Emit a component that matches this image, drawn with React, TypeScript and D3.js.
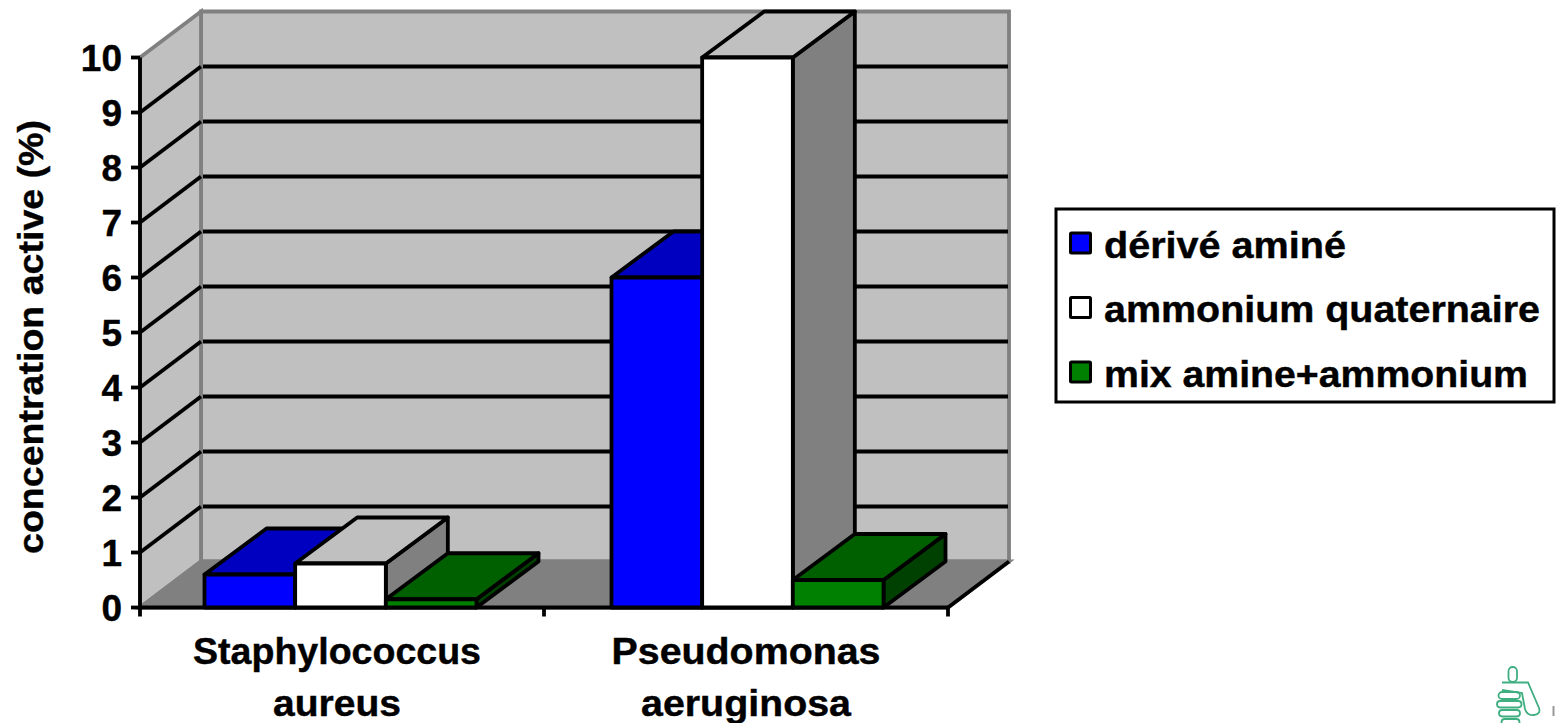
import React from "react";
import * as d3 from "d3";

const categories = [["Staphylococcus", "aureus"], ["Pseudomonas", "aeruginosa"]];
const seriesNames = ["dérivé aminé", "ammonium quaternaire", "mix amine+ammonium"];
const derive = [0.6, 6];
const ammonium = [0.8, 10];
const mix = [0.15, 0.5];
const seriesValues = [derive, ammonium, mix];
const frontColors = ["#0000ff", "#ffffff", "#008000"];
const topColors = ["#0000c0", "#c0c0c0", "#006000"];
const sideColors = ["#000080", "#808080", "#004000"];
const yTicks = d3.range(0, 11);

const DX = 61;
const DY = -46;
const BAR_DX = 62;
const SW = 3.8;
const FONT = "'Liberation Sans', Arial, sans-serif";

const y = d3.scaleLinear().domain([0, 10]).range([607.5, 57.5]);
const xCat = d3.scaleBand<number>().domain([0, 1]).range([140, 954]);
const xSer = d3.scaleBand<number>().domain([0, 1, 2]).range([64.5, 336.5]);
const xAxisTicks = [140, 544, 948];
const poly = (pts: number[][]) => "M" + pts.map((p) => p.join(",")).join("L") + "Z";

const catLabelLengths = [[288, 128], [269, 210]];
const catCenters = [337, 746];
const legendLengths = [242, 436, 424];
const textStroke = { stroke: "#000", strokeWidth: 0.4 };

export default function App() {
  const x0 = 140, x1 = 948, y0 = y(0), yT = y(10);
  return (
    <svg width={1556} height={723} style={{ position: "absolute", left: 0, top: 0, display: "block", background: "#fff" }} fontFamily={FONT} fontWeight="bold">
      {/* walls */}
      <path d={poly([[x0 + DX, yT + DY], [x1 + DX, yT + DY], [x1 + DX, y0 + DY], [x0 + DX, y0 + DY]])} fill="#c0c0c0" stroke="#808080" strokeWidth={SW} />
      <path d={poly([[x0, yT], [x0 + DX, yT + DY], [x0 + DX, y0 + DY], [x0, y0]])} fill="#c0c0c0" stroke="#808080" strokeWidth={SW} />
      {/* gridlines */}
      {yTicks.filter((t) => t > 0 && t < 10).map((t) => (
        <path key={t} d={`M${x0},${y(t)}L${x0 + DX},${y(t) + DY}`} fill="none" stroke="#000" strokeWidth={SW} />
      ))}
      {yTicks.filter((t) => t > 0 && t < 10).map((t) => (
        <path key={t} d={`M${x0 + DX + 2},${y(t) + DY}L${x1 + DX - 1},${y(t) + DY}`} fill="none" stroke="#000" strokeWidth={SW} />
      ))}
      {/* floor */}
      <path d={poly([[x0, y0], [x0 + DX, y0 + DY], [x1 + DX, y0 + DY], [x1, y0]])} fill="#808080" stroke="#808080" strokeWidth={SW} />
      <line x1={x1} y1={y0} x2={x1 + DX} y2={y0 + DY} stroke="#000" strokeWidth={SW} />
      {/* axes */}
      <line x1={x0} y1={yT} x2={x0} y2={y0} stroke="#000" strokeWidth={SW} />
      <line x1={x0} y1={y0} x2={x1} y2={y0} stroke="#000" strokeWidth={SW} />
      {yTicks.map((t) => (
        <g key={t}>
          <line x1={x0 - 9} x2={x0} y1={y(t)} y2={y(t)} stroke="#000" strokeWidth={SW} />
          <text x={122} y={y(t) + 13} textAnchor="end" fontSize={37} {...textStroke}>{t}</text>
        </g>
      ))}
      {xAxisTicks.map((t) => (
        <line key={t} x1={t} x2={t} y1={y0} y2={y0 + 9} stroke="#000" strokeWidth={SW} />
      ))}
      {/* bars */}
      {categories.map((_, c) => (
        <g key={c}>
          {seriesValues.map((vals, s) => {
            const l = (xCat(c) as number) + (xSer(s) as number);
            const r = l + xSer.bandwidth();
            const t = y(vals[c]);
            return (
              <g key={s} stroke="#000" strokeWidth={SW} strokeLinejoin="round">
                <path d={poly([[r, t], [r + BAR_DX, t + DY], [r + BAR_DX, y0 + DY], [r, y0]])} fill={sideColors[s]} />
                <path d={poly([[l, t], [l + BAR_DX, t + DY], [r + BAR_DX, t + DY], [r, t]])} fill={topColors[s]} />
                <path d={poly([[l, t], [r, t], [r, y0], [l, y0]])} fill={frontColors[s]} />
              </g>
            );
          })}
        </g>
      ))}
      {/* axis titles */}
      <text transform="translate(43,337) rotate(-90)" textAnchor="middle" fontSize={35} textLength={434} lengthAdjust="spacingAndGlyphs" {...textStroke}>concentration active (%)</text>
      {categories.map((lines, c) =>
        lines.map((ln, i) => (
          <text key={ln} x={catCenters[c]} y={664 + i * 52} textAnchor="middle" fontSize={36} textLength={catLabelLengths[c][i]} lengthAdjust="spacingAndGlyphs" {...textStroke}>{ln}</text>
        ))
      )}
      {/* legend */}
      <rect x={1056} y={209} width={498} height={193} fill="#fff" stroke="#000" strokeWidth={3} />
      {seriesNames.map((n, i) => (
        <g key={n}>
          <rect x={1070.5} y={233 + i * 64.5} width={20} height={20} fill={frontColors[i]} stroke="#000" strokeWidth={3} rx={1} />
          <text x={1104} y={257.5 + i * 64.5} fontSize={36} textLength={legendLengths[i]} lengthAdjust="spacingAndGlyphs" {...textStroke}>{n}</text>
        </g>
      ))}
      {/* logo */}
      <g fill="none" stroke="#3fae80" strokeWidth={1.8}>
        <rect x={1508.5} y={667} width={8.5} height={15} rx={4.2} />
        <path d="M1502,682.5H1528L1539,708Q1541,714 1534,715Q1527,716 1525,709L1522,693L1502,690" />
        <rect x={1498.5} y={692} width={21.5} height={7} rx={3.5} />
        <rect x={1497} y={701} width={24.5} height={6.5} rx={3.2} />
        <rect x={1499} y={710} width={21} height={6.5} rx={3.2} />
        <rect x={1501.5} y={719} width={18} height={6.5} rx={3.2} />
      </g>
      <path d="M1553.5,706V716" stroke="#999" strokeWidth={2} fill="none" />
    </svg>
  );
}
